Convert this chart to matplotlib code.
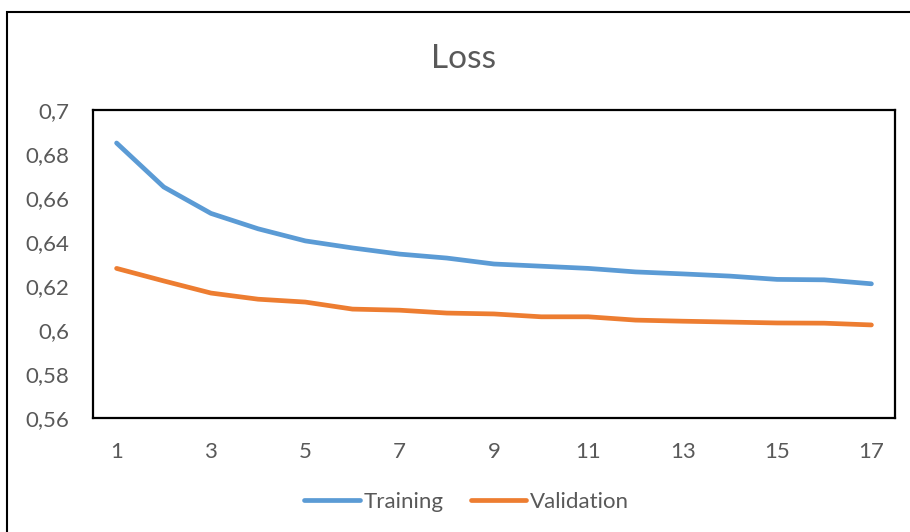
import matplotlib.pyplot as plt
from matplotlib.patches import Rectangle
from matplotlib.ticker import FuncFormatter

# data
epochs = list(range(1, 18))
training = [0.685, 0.665, 0.653, 0.646, 0.6405, 0.6373, 0.6345, 0.6327, 0.630,
            0.629, 0.628, 0.6264, 0.6255, 0.6245, 0.623, 0.6228, 0.621]
validation = [0.628, 0.6223, 0.6168, 0.614, 0.6127, 0.6095, 0.609, 0.6077, 0.6073,
              0.606, 0.606, 0.6045, 0.604, 0.6036, 0.6032, 0.6031, 0.6023]
x_ticks = [1, 3, 5, 7, 9, 11, 13, 15, 17]
y_ticks = [0.56, 0.58, 0.6, 0.62, 0.64, 0.66, 0.68, 0.7]

plt.rcParams['font.family'] = ['Lato', 'DejaVu Sans']
grey = '#595959'

fig = plt.figure(figsize=(9.1, 5.32), dpi=100)
ax = fig.add_axes([93 / 910, 1 - 418 / 532, (895 - 93) / 910, (418 - 110) / 532])

ax.plot(epochs, training, color='#5B9BD5', lw=3.4, solid_capstyle='round', label='Training')
ax.plot(epochs, validation, color='#ED7D31', lw=3.4, solid_capstyle='round', label='Validation')

ax.set_xlim(0.5, 17.5)
ax.set_ylim(0.56, 0.7)
ax.set_xticks(x_ticks)
ax.set_yticks(y_ticks)
ax.yaxis.set_major_formatter(FuncFormatter(lambda v, p: ('%g' % round(v, 2)).replace('.', ',')))
ax.tick_params(length=0, labelsize=16, labelcolor=grey)
ax.tick_params(axis='x', pad=17)
ax.tick_params(axis='y', pad=17)
for s in ax.spines.values():
    s.set_linewidth(1.6)
    s.set_color('black')

fig.text(0.509, 1 - 59 / 532, 'Loss', ha='center', va='center', fontsize=24, color=grey)

leg = fig.legend(loc='center', bbox_to_anchor=(0.513, 1 - 502 / 532), ncol=2, frameon=False,
                 fontsize=16, handlelength=2.5, handletextpad=0.18, columnspacing=1.2)
for t in leg.get_texts():
    t.set_color(grey)

# outer chart border
fig.patches.append(Rectangle((7 / 910, -0.05), 1.0, 1 - 12 / 532 + 0.05,
                             transform=fig.transFigure, fill=False, lw=1.5, ec='black'))

fig.savefig('out.png', dpi=100)
